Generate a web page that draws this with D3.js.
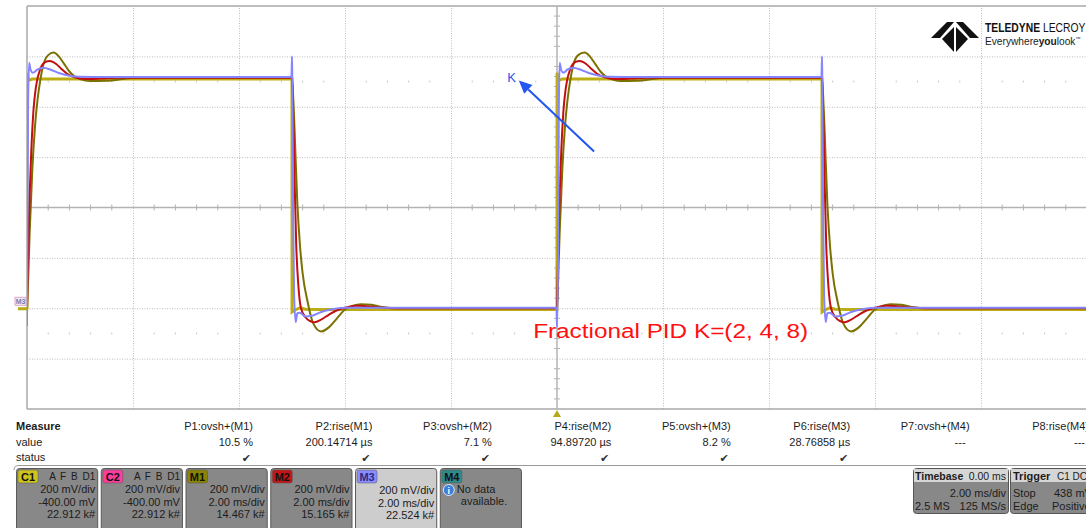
<!DOCTYPE html>
<html><head><meta charset="utf-8">
<script src="https://cdn.jsdelivr.net/npm/d3@7"></script>
<style>
html,body{margin:0;padding:0;background:#fff;overflow:hidden;}
svg{display:block;font-family:"Liberation Sans",Arial,sans-serif;}
</style></head><body>
<svg id="chart" width="1086" height="528"></svg>
<script>
// ---------- data (time in ms, voltage in mV) ----------
const timeTicks = [-10,-8,-6,-4,-2,0,2,4,6,8,10];
const voltTicks = [-400,-200,0,200,400,600,800,1000,1200];

const c1Wave = [[-10,-5],[-9.999,935],[-9.97,905],[-9.9,910],[-5.0,910],[-4.999,-15],[-4.95,-8],[-4.85,2],[-4.75,-4],[-4.5,-5],
  [0,-5],[0.001,935],[0.03,905],[0.1,910],[5.0,910],[5.001,-15],[5.05,-8],[5.15,2],[5.25,-4],[5.5,-5],[10,-5]];

const m1Wave = [[-10,0],[-9.98,100],[-9.95,300],[-9.9,550],[-9.85,720],[-9.8,830],[-9.75,905],[-9.7,960],[-9.6,1005],[-9.5,1015],
  [-9.4,1000],[-9.3,970],[-9.2,940],[-9.1,920],[-9.0,910],[-8.8,902],[-8.5,903],[-8.2,910],[-8.0,915],[-5.0,915],
  [-4.98,850],[-4.95,700],[-4.9,420],[-4.85,250],[-4.8,140],[-4.7,20],[-4.6,-60],[-4.45,-92],[-4.3,-75],[-4.15,-40],
  [-4.0,-5],[-3.85,10],[-3.7,16],[-3.5,14],[-3.3,5],[-3.0,0],[0,0],
  [0.02,100],[0.05,300],[0.1,550],[0.15,720],[0.2,830],[0.25,905],[0.3,960],[0.4,1005],[0.52,1015],[0.62,1000],[0.72,970],
  [0.82,940],[0.92,920],[1.02,910],[1.2,902],[1.5,903],[1.8,910],[2.0,915],[5.0,915],
  [5.02,850],[5.05,700],[5.1,420],[5.15,250],[5.2,140],[5.3,20],[5.4,-60],[5.55,-92],[5.7,-75],[5.85,-40],[6.0,-5],
  [6.15,10],[6.3,16],[6.5,14],[6.7,5],[7.0,0],[10,0]];

const m2Wave = [[-10,0],[-9.98,200],[-9.95,450],[-9.92,620],[-9.88,780],[-9.83,880],[-9.75,950],[-9.65,978],[-9.57,982],[-9.45,970],
  [-9.35,950],[-9.25,932],[-9.1,917],[-8.9,910],[-8.6,912],[-8.3,915],[-5.0,915],
  [-4.98,800],[-4.95,500],[-4.92,250],[-4.88,90],[-4.83,0],[-4.75,-35],[-4.65,-52],[-4.57,-56],[-4.45,-45],[-4.3,-25],
  [-4.15,-8],[-4.0,2],[-3.8,10],[-3.6,8],[-3.3,3],[-3.0,0],[0,0],
  [0.02,200],[0.05,450],[0.08,620],[0.12,780],[0.17,880],[0.25,950],[0.35,978],[0.43,982],[0.55,970],[0.65,950],[0.75,932],
  [0.9,917],[1.1,910],[1.4,912],[1.7,915],[5.0,915],
  [5.02,800],[5.05,500],[5.08,250],[5.12,90],[5.17,0],[5.25,-35],[5.35,-52],[5.43,-56],[5.55,-45],[5.7,-25],[5.85,-8],
  [6.0,2],[6.2,10],[6.4,8],[6.7,3],[7.0,0],[10,0]];

const m3Wave = [[-10,-70],[-9.995,200],[-9.98,800],[-9.96,975],[-9.93,945],[-9.89,935],[-9.8,948],[-9.7,955],[-9.55,947],[-9.4,934],
  [-9.2,923],[-9.0,919],[-8.5,918],[-5.01,918],[-5.0,1000],[-4.995,918],[-4.98,400],[-4.96,50],[-4.93,-55],[-4.9,-20],
  [-4.85,-18],[-4.75,-33],[-4.62,-30],[-4.45,-15],[-4.25,-4],[-4.0,2],[-0.01,2],
  [0.0,-75],[0.02,200],[0.035,800],[0.05,975],[0.08,945],[0.12,935],[0.2,948],[0.3,955],[0.45,947],[0.6,934],[0.8,923],
  [1.0,919],[1.5,918],[4.99,918],[5.0,1000],[5.005,918],[5.02,400],[5.04,50],[5.07,-55],[5.1,-20],[5.15,-18],[5.25,-33],
  [5.38,-30],[5.55,-15],[5.75,-4],[6.0,2],[10,2]];

const measureNames = ["P1:ovsh+(M1)","P2:rise(M1)","P3:ovsh+(M2)","P4:rise(M2)","P5:ovsh+(M3)","P6:rise(M3)","P7:ovsh+(M4)","P8:rise(M4)"];
const measureValues = ["10.5 %","200.14714 µs","7.1 %","94.89720 µs","8.2 %","28.76858 µs","---","---"];
const measureStatus = [true,true,true,true,true,true,false,false];

const channelNames = ["C1","C2","M1","M2","M3","M4"];
const channelLines = [
  ["200 mV/div","-400.00 mV","22.912 k#"],
  ["200 mV/div","-400.00 mV","22.912 k#"],
  ["200 mV/div","2.00 ms/div","14.467 k#"],
  ["200 mV/div","2.00 ms/div","15.165 k#"],
  ["200 mV/div","2.00 ms/div","22.524 k#"],
  ["No data","available."]];
const channelColors = ["#cfc41e","#ff3d9e","#8a8500","#c41616","#8c8cff","#2f8a8a"];
const traceColors = {c1:"#bbad12", m1:"#7b7100", m2:"#c21010", m3:"#8585ff"};

// ---------- layout ----------
const svg = d3.select("#chart");
const L = 27, R = 1087, T = 6, B = 409;
const x = d3.scaleLinear().domain([-10,10]).range([L,R]);
const y = d3.scaleLinear().domain([-400,1200]).range([B,T]);

// grid
const gx = svg.append("g").attr("transform",`translate(0,${B})`)
  .call(d3.axisBottom(x).tickValues(timeTicks.filter(t=>t!==-10 && t!==0 && t!==10)).tickSize(-(B-T)).tickFormat(""));
gx.select(".domain").remove();
gx.selectAll(".tick line").attr("stroke","#bcbcbc").attr("stroke-dasharray","1,1.5");
const gy = svg.append("g").attr("transform",`translate(${L},0)`)
  .call(d3.axisLeft(y).tickValues(voltTicks.filter(v=>v!==-400 && v!==1200 && v!==400)).tickSize(-(R-L)).tickFormat(""));
gy.select(".domain").remove();
gy.selectAll(".tick line").attr("stroke","#bcbcbc").attr("stroke-dasharray","1,1.5");

// borders & center cross
const bc = "#a9a9a9";
svg.append("line").attr("x1",L).attr("x2",R).attr("y1",T).attr("y2",T).attr("stroke",bc).attr("stroke-width",1.5);
svg.append("line").attr("x1",L).attr("x2",R).attr("y1",B).attr("y2",B).attr("stroke",bc).attr("stroke-width",1.5);
svg.append("line").attr("x1",L).attr("x2",L).attr("y1",T).attr("y2",B).attr("stroke",bc).attr("stroke-width",1.5);
svg.append("line").attr("x1",L).attr("x2",R).attr("y1",y(400)).attr("y2",y(400)).attr("stroke","#b3b3b3").attr("stroke-width",1.5);
svg.append("line").attr("x1",x(0)).attr("x2",x(0)).attr("y1",T).attr("y2",B).attr("stroke","#b3b3b3").attr("stroke-width",1.5);

// minor ticks
const minorT = d3.range(-10,10.001,0.4).filter(t=>Math.abs(t/2-Math.round(t/2))>1e-6);
const minorV = d3.range(-400,1200.001,40).filter(v=>Math.abs(v/200-Math.round(v/200))>1e-6);
svg.append("g").selectAll("line").data(minorT).join("line")
  .attr("x1",d=>x(d)).attr("x2",d=>x(d)).attr("y1",y(400)-3).attr("y2",y(400)+3).attr("stroke","#b3b3b3");
svg.append("g").selectAll("line").data(minorV).join("line")
  .attr("x1",x(0)-3).attr("x2",x(0)+3).attr("y1",d=>y(d)).attr("y2",d=>y(d)).attr("stroke","#b3b3b3");
[900,-100].forEach(v=>{
  svg.append("g").selectAll("line").data(minorT).join("line")
    .attr("x1",d=>x(d)).attr("x2",d=>x(d)).attr("y1",y(v)-1).attr("y2",y(v)+1).attr("stroke","#c8c8c8");
});

// traces
svg.append("clipPath").attr("id","plotclip").append("rect").attr("x",L).attr("y",T).attr("width",R-L).attr("height",B-T);
const tr = svg.append("g").attr("clip-path","url(#plotclip)");
const lineLin = d3.line().x(d=>x(d[0])).y(d=>y(d[1]));
const lineSmooth = d3.line().x(d=>x(d[0])).y(d=>y(d[1])).curve(d3.curveMonotoneX);
tr.append("path").datum(c1Wave).attr("d",lineLin).attr("fill","none").attr("stroke",traceColors.c1).attr("stroke-width",3);
tr.append("path").datum(m1Wave).attr("d",lineSmooth).attr("fill","none").attr("stroke",traceColors.m1).attr("stroke-width",2);
tr.append("path").datum(m2Wave).attr("d",lineSmooth).attr("fill","none").attr("stroke",traceColors.m2).attr("stroke-width",2);
tr.append("path").datum(m3Wave).attr("d",lineSmooth).attr("fill","none").attr("stroke",traceColors.m3).attr("stroke-width",2);

// left markers
svg.append("rect").attr("x",15).attr("y",y(0)-11).attr("width",11).attr("height",8).attr("fill","#eee").attr("stroke","#e090c0").attr("stroke-width",0.8);
svg.append("text").attr("x",20.5).attr("y",y(0)-4.5).attr("text-anchor","middle").attr("font-size",7).attr("font-weight","bold").attr("fill","#7a7ab8").text("M3");
svg.append("rect").attr("x",18).attr("y",y(0)-1).attr("width",9).attr("height",3).attr("fill","#b8aa10");
// trigger marker
svg.append("path").attr("d",`M${x(0)-4},${B+8} L${x(0)+4},${B+8} L${x(0)},${B+1} Z`).attr("fill","#b5a81a");

// annotations
const ax0 = x(0.70), ay0 = y(622), ax1 = x(-0.72), ay1 = y(904);
const ang = Math.atan2(ay1-ay0, ax1-ax0);
const hl = 13, hw = 6;
const bx = ax1 - hl*Math.cos(ang), by = ay1 - hl*Math.sin(ang);
svg.append("line").attr("x1",ax0).attr("y1",ay0).attr("x2",bx).attr("y2",by).attr("stroke","#2256f0").attr("stroke-width",2);
svg.append("path").attr("d",`M${ax1},${ay1} L${bx+hw*Math.sin(ang)},${by-hw*Math.cos(ang)} L${bx-hw*Math.sin(ang)},${by+hw*Math.cos(ang)} Z`).attr("fill","#2256f0");
svg.append("text").attr("x",x(-0.94)).attr("y",y(900)).attr("font-size",13).attr("fill","#2a56e8").text("K");
svg.append("text").attr("x",x(-0.45)).attr("y",y(-120)).attr("font-size",20).attr("fill","#ff1010")
  .attr("textLength",275).attr("lengthAdjust","spacingAndGlyphs").text("Fractional PID K=(2, 4, 8)");

// logo
const logo = svg.append("g");
logo.append("path").attr("d","M931,38 L947,22 L954,22 L940,38 Z").attr("fill","#111");
logo.append("path").attr("d","M979,38 L963,22 L956,22 L970,38 Z").attr("fill","#111");
logo.append("path").attr("d","M942,39 L954,27 L954,52 Z").attr("fill","#111");
logo.append("path").attr("d","M968,39 L956,27 L956,52 Z").attr("fill","#111");
const lt = logo.append("text").attr("transform","translate(985,32) scale(0.86,1)").attr("font-size",12).attr("fill","#111");
lt.append("tspan").attr("font-weight","bold").text("TELEDYNE");
lt.append("tspan").text(" LECROY");
const lt2 = logo.append("text").attr("transform","translate(985,45) scale(0.97,1)").attr("font-size",10.5).attr("fill","#222");
lt2.append("tspan").text("Everywhere");
lt2.append("tspan").attr("font-weight","bold").text("you");
lt2.append("tspan").text("look");
lt2.append("tspan").attr("font-size",5.5).attr("dy",-4).text("™");

// ---------- measure table ----------
const txt = "#1c1c1c";
const col = d3.scalePoint().domain(measureNames).range([253, 1089]);
svg.append("text").attr("x",16).attr("y",430).attr("font-size",11).attr("font-weight","bold").attr("fill",txt).text("Measure");
svg.append("text").attr("x",16).attr("y",446).attr("font-size",11).attr("fill",txt).text("value");
svg.append("text").attr("x",16).attr("y",461).attr("font-size",11).attr("fill",txt).text("status");
svg.append("g").selectAll("text").data(measureNames).join("text")
  .attr("x",d=>col(d)).attr("y",430).attr("text-anchor","end").attr("font-size",11).attr("fill",txt).text(d=>d);
svg.append("g").selectAll("text").data(measureValues).join("text")
  .attr("x",(d,i)=>col(measureNames[i])-(d==="---"?4:0)).attr("y",446).attr("text-anchor","end").attr("font-size",11).attr("fill",txt).text(d=>d);
svg.append("g").selectAll("text").data(measureStatus).join("text")
  .attr("x",(d,i)=>col(measureNames[i])-2).attr("y",462).attr("text-anchor","end").attr("font-size",11).attr("fill","#333")
  .attr("font-family","DejaVu Sans").text(d=>d?"✔":"");
svg.append("path").attr("d","M14,470 Q14,465.5 19,465.5 L1086,465.5").attr("fill","none").attr("stroke","#9a9a9a").attr("stroke-width",1);

// ---------- channel boxes ----------
const cb = d3.scaleBand().domain(channelNames).range([16,522]).paddingInner(0.03);
channelNames.forEach((c,i)=>{
  const g = svg.append("g").attr("transform",`translate(${cb(c)},468)`);
  const w = cb.bandwidth();
  g.append("rect").attr("x",0.5).attr("y",0.5).attr("width",w-1).attr("height",64).attr("rx",3)
    .attr("fill",c==="M3"?"#cdcdcd":"#888888").attr("stroke","#5a5a5a");
  g.append("rect").attr("x",2).attr("y",2).attr("width",20).attr("height",13).attr("rx",2).attr("fill",channelColors[i]).attr("stroke","#555").attr("stroke-width",0.5);
  g.append("text").attr("x",12).attr("y",12.5).attr("text-anchor","middle").attr("font-size",11).attr("font-weight","bold")
    .attr("fill",c==="M3"?"#2a2a80":"#111").text(c);
  if (c==="C1"||c==="C2") g.append("text").attr("x",w-3).attr("y",12).attr("text-anchor","end").attr("font-size",10).attr("fill",txt).attr("word-spacing",2).text("A F B D1");
  if (c==="M4") {
    g.append("circle").attr("cx",9).attr("cy",22).attr("r",5.5).attr("fill","#3d7fd8").attr("stroke","#fff").attr("stroke-width",0.8);
    g.append("text").attr("x",9).attr("y",26).attr("text-anchor","middle").attr("font-size",9).attr("font-weight","bold").attr("fill","#fff").text("i");
    g.append("text").attr("x",17).attr("y",25).attr("font-size",11).attr("fill",txt).text(channelLines[i][0]);
    g.append("text").attr("x",21).attr("y",37).attr("font-size",11).attr("fill",txt).text(channelLines[i][1]);
  } else {
    channelLines[i].forEach((s,k)=>{
      g.append("text").attr("x",w-3).attr("y",(c==="M3"?26:25)+k*12.5).attr("text-anchor","end").attr("font-size",11).attr("fill",txt).text(s);
    });
  }
});

// timebase / trigger
const tb = svg.append("g").attr("transform","translate(913,468)");
tb.append("rect").attr("x",0.5).attr("y",0.5).attr("width",95).attr("height",45).attr("rx",3).attr("fill","#888").attr("stroke","#555");
tb.append("rect").attr("x",1).attr("y",1).attr("width",94).attr("height",13).attr("fill","#d6d6d6");
tb.append("text").attr("x",2).attr("y",11.5).attr("font-size",10.5).attr("font-weight","bold").attr("fill",txt).text("Timebase");
tb.append("text").attr("x",93).attr("y",11.5).attr("text-anchor","end").attr("font-size",10.5).attr("fill",txt).text("0.00 ms");
tb.append("text").attr("x",93).attr("y",29).attr("text-anchor","end").attr("font-size",11).attr("fill",txt).text("2.00 ms/div");
tb.append("text").attr("x",2).attr("y",42).attr("font-size",11).attr("fill",txt).text("2.5 MS");
tb.append("text").attr("x",93).attr("y",42).attr("text-anchor","end").attr("font-size",11).attr("fill",txt).text("125 MS/s");
const tg = svg.append("g").attr("transform","translate(1010,468)");
tg.append("rect").attr("x",0.5).attr("y",0.5).attr("width",95).attr("height",45).attr("rx",3).attr("fill","#888").attr("stroke","#555");
tg.append("rect").attr("x",1).attr("y",1).attr("width",94).attr("height",13).attr("fill","#d6d6d6");
tg.append("text").attr("x",3).attr("y",11.5).attr("font-size",11).attr("font-weight","bold").attr("fill",txt).text("Trigger");
tg.append("text").attr("x",47).attr("y",11.5).attr("font-size",10).attr("fill",txt).text("C1 DC");
tg.append("text").attr("x",3).attr("y",29).attr("font-size",11).attr("fill",txt).text("Stop");
tg.append("text").attr("x",44).attr("y",29).attr("font-size",11).attr("fill",txt).text("438 mV");
tg.append("text").attr("x",3).attr("y",42).attr("font-size",11).attr("fill",txt).text("Edge");
tg.append("text").attr("x",42).attr("y",42).attr("font-size",11).attr("fill",txt).text("Positive");
</script>
</body></html>
